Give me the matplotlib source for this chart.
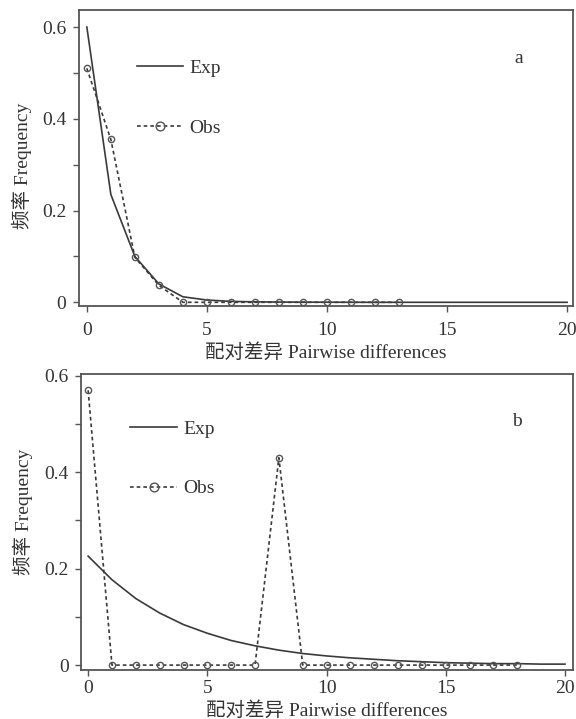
import matplotlib
matplotlib.use("Agg")
import matplotlib.pyplot as plt
from matplotlib.ticker import FixedLocator

plt.rcParams['font.family'] = ['Liberation Serif', 'Noto Sans CJK SC']
plt.rcParams['axes.unicode_minus'] = False

# Panel a
a_exp_x = list(range(0, 21))
a_exp_y = [0.60, 0.235, 0.100, 0.040, 0.012, 0.005, 0.002, 0.001, 0.0005, 0.0003,
           0.0002, 0.0001, 0.0, 0.0, 0.0, 0.0, 0.0, 0.0, 0.0, 0.0, 0.0]
a_obs_x = list(range(0, 14))
a_obs_y = [0.51, 0.355, 0.098, 0.037, 0.0, 0.0, 0.0, 0.0, 0.0, 0.0, 0.0, 0.0, 0.0, 0.0]

# Panel b
b_exp_x = list(range(0, 21))
b_exp_y = [0.226, 0.177, 0.138, 0.108, 0.084, 0.066, 0.051, 0.040, 0.031, 0.024,
           0.019, 0.015, 0.012, 0.009, 0.007, 0.005, 0.004, 0.003, 0.003, 0.002, 0.002]
b_obs_x = list(range(0, 19))
b_obs_y = [0.57, 0.0, 0.0, 0.0, 0.0, 0.0, 0.0, 0.0, 0.43, 0.0,
           0.0, 0.0, 0.0, 0.0, 0.0, 0.0, 0.0, 0.0, 0.0]

xticks = [0, 5, 10, 15, 20]
yticks = [0, 0.2, 0.4, 0.6]
ytick_labels = ['0', '0.2', '0.4', '0.6']
xlabel = '配对差异 Pairwise differences'
ylabel = '频率 Frequency'

fig = plt.figure(figsize=(5.76, 7.19), dpi=100)
ax1 = fig.add_axes([0.137, 0.574, 0.858, 0.412])
ax2 = fig.add_axes([0.141, 0.068, 0.854, 0.412])

LC = '#3a3a3a'
TC = '#333333'
SC = '#555555'
FS = 14

def style(ax, xlim, ylim, lab, lab_y, leg_anchor, xpad, xlabpad, ylab_xy, lspace):
    ax.set_xlim(*xlim)
    ax.set_ylim(*ylim)
    ax.set_xticks(xticks)
    ax.set_xticklabels([str(t) for t in xticks])
    ax.set_yticks(yticks)
    ax.set_yticklabels(ytick_labels)
    ax.yaxis.set_minor_locator(FixedLocator([0.1, 0.3, 0.5]))
    ax.tick_params(axis='both', which='both', direction='out', colors=SC,
                   labelcolor=TC, labelsize=FS, length=4, width=1)
    ax.tick_params(axis='x', pad=xpad)
    ax.tick_params(axis='y', pad=5)
    for s in ax.spines.values():
        s.set_color(SC)
        s.set_linewidth(1.3)
    ax.set_xlabel(xlabel, fontsize=FS, color=TC, labelpad=xlabpad)
    ax.set_ylabel(ylabel, fontsize=FS, color=TC)
    ax.yaxis.set_label_coords(*ylab_xy)
    leg = ax.legend(loc='upper left', bbox_to_anchor=leg_anchor, frameon=False,
                    fontsize=FS, handlelength=2.4, handletextpad=0.3,
                    labelspacing=lspace, borderaxespad=0, borderpad=0, numpoints=1,
                    markerscale=1.4)
    for t in leg.get_texts():
        t.set_color(TC)
    ax.text(18.0, lab_y, lab, fontsize=FS, color=TC, ha='center', va='center')

ax1.plot(a_exp_x, a_exp_y, '-', color=LC, lw=1.2, label='Exp')
ax1.plot(a_obs_x, a_obs_y, linestyle=(0, (2.2, 1.8)), color=LC, lw=1.2,
         marker='o', markersize=4.5, markerfacecolor='none', markeredgecolor='#555555',
         markeredgewidth=1, label='Obs')
style(ax1, (-0.33, 20.25), (-0.0087, 0.637), 'a', 0.532, (0.117, 0.835),
      7.5, 2.5, (-0.095, 0.473), 2.2)

ax2.plot(b_exp_x, b_exp_y, '-', color=LC, lw=1.2, label='Exp')
ax2.plot(b_obs_x, b_obs_y, linestyle=(0, (2.2, 1.8)), color=LC, lw=1.2,
         marker='o', markersize=4.5, markerfacecolor='none', markeredgecolor='#555555',
         markeredgewidth=1, label='Obs')
style(ax2, (-0.29, 20.34), (-0.0104, 0.604), 'b', 0.505, (0.10, 0.843),
      3.0, 3.0, (-0.098, 0.534), 2.15)

fig.savefig('out.png', dpi=100)
